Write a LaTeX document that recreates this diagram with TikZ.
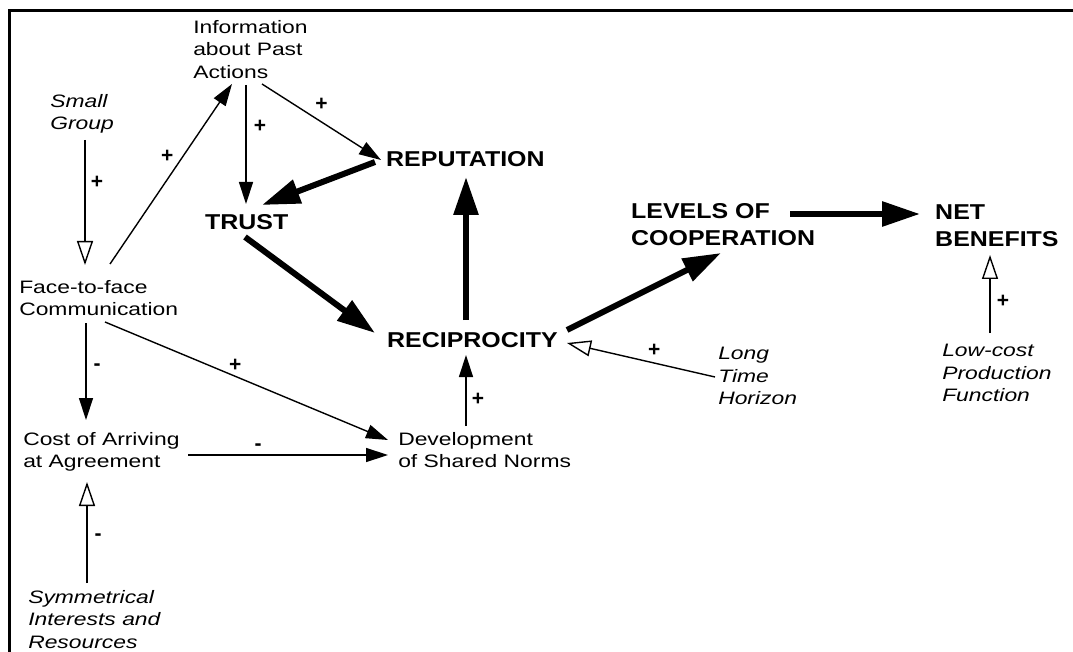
\documentclass[tikz,border=0pt]{standalone}
\usepackage{fontspec}
\setmainfont{Liberation Sans}
\usetikzlibrary{calc,arrows.meta}

\tikzset{
  var/.style={anchor=north west, inner sep=0pt, align=left, xscale=1.27,
    font=\fontsize{18}{22.5}\selectfont},
  exo/.style={var, font=\fontsize{18}{22.5}\selectfont\itshape},
  core/.style={anchor=north west, inner sep=0pt, align=left, xscale=1.16,
    font=\fontsize{21.5}{27}\selectfont\bfseries},
  sgn/.style={inner sep=0pt, font=\fontsize{21}{21}\selectfont\bfseries},
  link/.style={line width=1.4pt, -{Triangle[length=22pt,width=14pt]}},
  openlink/.style={line width=1.4pt, -{Triangle[open,length=24pt,width=16pt]}},
  strong/.style={line width=6pt, -{Triangle[length=38pt,width=24pt]}}
}

\begin{document}
\begin{tikzpicture}[x=1pt,y=-1pt]
\useasboundingbox (0,0) rectangle (1073,652);

% Frame
\draw[line width=3pt] (9,652) -- (9,11) -- (1073,11);

% Variables
\node[var] (info) at (193,20) {Information\\about Past\\Actions};
\node[exo] (small) at (50,94) {Small\\Group};
\node[var] (face) at (19,280) {Face-to-face\\Communication};
\node[var] (cost) at (23,432) {Cost of Arriving\\at Agreement};
\node[var] (devel) at (398,432) {Development\\of Shared Norms};
\node[exo] (symm) at (28,590) {Symmetrical\\Interests and\\Resources};
\node[exo] (longh) at (718,347) {Long\\Time\\Horizon};
\node[exo] (lowcost) at (942,344) {Low-cost\\Production\\Function};

% Core variables
\node[core] (reput) at (386,151.5) {REPUTATION};
\node[core] (trust) at (205,214.5) {TRUST};
\node[core] (recip) at (387,332.5) {RECIPROCITY};
\node[core] (levels) at (631,203.5) {LEVELS OF\\COOPERATION};
\node[core] (netben) at (935,204.5) {NET\\BENEFITS};

% Thin links
\draw[link] ($(face.north west)+(91,-16)$) -- ($(info.north west)+(39,64)$)
  node[sgn, pos=.6, xshift=-16] {+};
\draw[link] ($(info.north west)+(53,65)$) -- ($(trust.north west)+(41,-10.5)$)
  node[sgn, pos=.35, xshift=14] {+};
\draw[link] ($(info.north west)+(69,64)$) -- ($(reput.north west)+(-5,8.5)$)
  node[sgn, pos=.5, yshift=18] {+};
\draw[link] ($(face.north west)+(67,43)$) -- ($(cost.north west)+(63,-12)$)
  node[sgn, pos=.46, xshift=11] {-};
\draw[link] ($(face.north west)+(86,42)$) -- ($(devel.north west)+(-10,8)$)
  node[sgn, pos=.46, yshift=11] {+};
\draw[link] ($(cost.north west)+(165,23)$) -- ($(devel.north west)+(-10,23)$)
  node[sgn, pos=.35, yshift=8] {-};
\draw[link] ($(devel.north west)+(68,-6)$) -- ($(recip.north west)+(79,22.5)$)
  node[sgn, pos=.37, xshift=12] {+};

% Open links
\draw[openlink] ($(small.north west)+(35,46)$) -- ($(face.north west)+(66,-15)$)
  node[sgn, pos=.34, xshift=12] {+};
\draw[openlink] ($(symm.north west)+(59,-7)$) -- ($(cost.north west)+(64,50)$)
  node[sgn, pos=.45, xshift=11] {-};
\draw[openlink] ($(longh.north west)+(-3,30)$) -- ($(recip.north west)+(180,10.5)$)
  node[sgn, pos=.41, yshift=13] {+};
\draw[openlink] ($(lowcost.north west)+(48,-11)$) -- ($(netben.north west)+(55,50.5)$)
  node[sgn, pos=.4, xshift=13] {+};

% Strong links
\draw[strong] ($(reput.north west)+(-11,10.5)$) -- ($(trust.north west)+(57,-9.5)$);
\draw[strong] ($(trust.north west)+(40,22.5)$) -- ($(recip.north west)+(-12,0.5)$);
\draw[strong] ($(recip.north west)+(79,-12.5)$) -- ($(reput.north west)+(80,25.5)$);
\draw[strong] ($(recip.north west)+(180,-2.5)$) -- ($(levels.north west)+(90,49.5)$);
\draw[strong] ($(levels.north west)+(159,10.5)$) -- ($(netben.north west)+(-15,9.5)$);
\end{tikzpicture}
\end{document}
